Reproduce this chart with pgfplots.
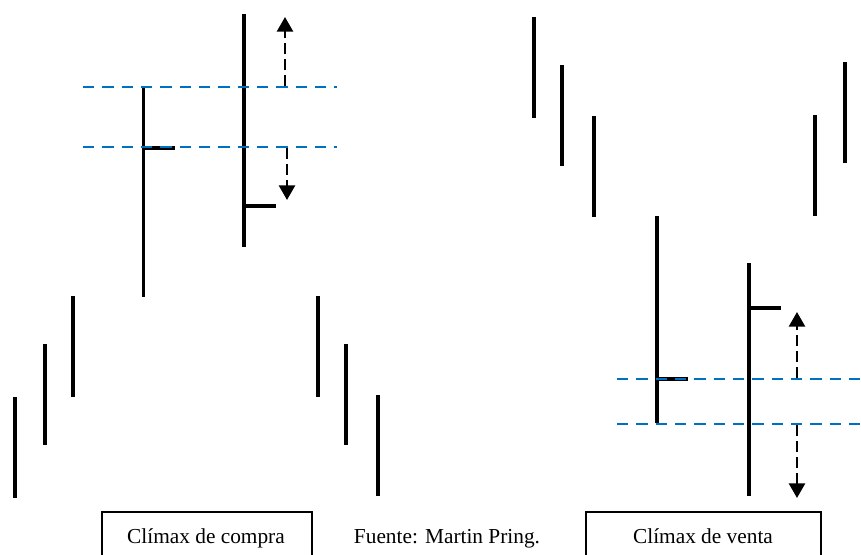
\documentclass[border=0pt]{standalone}
\usepackage{pgfplots}
\pgfplotsset{compat=1.18}
\usepackage{fontspec}
\setmainfont{Liberation Serif}
\usetikzlibrary{arrows.meta}

\definecolor{lineblue}{HTML}{0070C0}

\begin{document}
\begin{tikzpicture}[x=0.75pt,y=0.75pt]
\begin{axis}[
    scale only axis,
    width=645.75pt, height=415.5pt,
    xmin=0, xmax=861,
    ymin=0, ymax=554,
    y dir=reverse,
    hide axis,
    clip=false,
    unbounded coords=jump,
    bar/.style={black, line width=2.9pt, line cap=butt, no marks},
    level/.style={lineblue, line width=1.9pt, dash pattern=on 8.5pt off 6pt, no marks},
    move/.style={black, line width=2pt, dash pattern=on 8pt off 4pt, no marks,
        -{Triangle[width=12pt,length=11pt]}},
    box/.style={black, line width=0.8pt, no marks},
]
% compra: barras (x, maximo, minimo)
\addplot[bar] coordinates {
    (15,397) (15,498) (15,nan)
    (45,344) (45,445) (45,nan)
    (73,296) (73,397) (73,nan)
    (143.5,88) (143.5,297) (143.5,nan)
    (244,14) (244,247) (244,nan)
    (318,296) (318,397) (318,nan)
    (346,344) (346,445) (346,nan)
    (378,395) (378,496)
};
% cierres
\addplot[bar] coordinates {(142.5,148) (175,148) (175,nan) (243,206) (276,206)};

% venta
\addplot[bar] coordinates {
    (534,17) (534,118) (534,nan)
    (562,65) (562,166) (562,nan)
    (594,116) (594,217) (594,nan)
    (657,216) (657,423) (657,nan)
    (749,263) (749,496) (749,nan)
    (815,115) (815,216) (815,nan)
    (845,62) (845,163)
};
\addplot[bar] coordinates {(656,379) (688,379) (688,nan) (748,308) (781,308)};

% niveles
\addplot[level] coordinates {(83,87) (337,87)};
\addplot[level] coordinates {(83,147) (337,147)};
\addplot[level] coordinates {(617,379) (861,379)};
\addplot[level] coordinates {(617,424) (861,424)};

% flechas
\addplot[move] coordinates {(285,86) (285,17)};
\addplot[move] coordinates {(287,148) (287,200)};
\addplot[move] coordinates {(797,378) (797,312)};
\addplot[move] coordinates {(797,425) (797,498)};

% cuadros
\addplot[box] coordinates {(102,560) (102,512) (312,512) (312,560)};
\addplot[box] coordinates {(586,560) (586,512) (821,512) (821,560)};

\node[anchor=base, font=\fontsize{16}{19}\selectfont, inner sep=0pt] at (axis cs:206,543) {Clímax de compra};
\node[anchor=base, font=\fontsize{16}{19}\selectfont, inner sep=0pt] at (axis cs:447,543) {Fuente: Martin Pring.};
\node[anchor=base, font=\fontsize{16}{19}\selectfont, inner sep=0pt] at (axis cs:703,543) {Clímax de venta};
\end{axis}
\pgfresetboundingbox
\path[use as bounding box] (current axis.south west) rectangle (current axis.north east);
\end{tikzpicture}
\end{document}
